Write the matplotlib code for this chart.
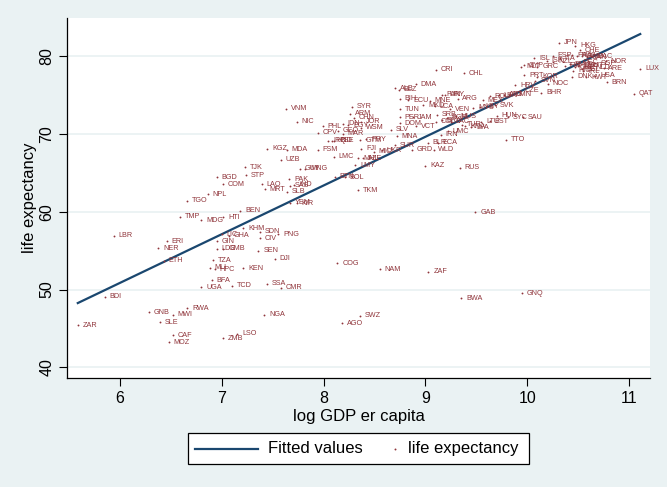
import matplotlib
matplotlib.use('Agg')
import matplotlib.pyplot as plt
from matplotlib.lines import Line2D
from matplotlib.patches import Rectangle
import numpy as np

BG = '#eaf2f3'
LINE = '#1a476f'
DOT = '#90353b'

codes = [
    'ZAR', 'BDI', 'LBR', 'ERI', 'NER', 'ETH', 'GNB', 'MWI', 'RWA', 'SLE',
    'CAF', 'MOZ', 'ZMB', 'LSO', 'UGA', 'BFA', 'TCD', 'TZA', 'MLI', 'HPC',
    'KEN', 'LDC', 'GMB', 'GIN', 'LIC', 'GHA', 'KHM', 'SDN', 'CIV', 'PNG',
    'SEN', 'DJI', 'SSA', 'CMR', 'NGA', 'COG', 'NAM', 'ZAF', 'SWZ', 'AGO',
    'BWA', 'GNQ', 'GAB', 'TMP', 'MDG', 'HTI', 'BEN', 'TGO', 'NPL', 'BGD',
    'COM', 'TJK', 'STP', 'LAO', 'MRT', 'PAK', 'SAS', 'IND', 'SLB', 'YEM',
    'KIR', 'GUY', 'MNG', 'UZB', 'KGZ', 'MDA', 'FSM', 'LMC', 'BTN', 'BOL',
    'TKM', 'LMY', 'MHL', 'AZE', 'VNM', 'NIC', 'PHL', 'CPV', 'GEO', 'MAR',
    'IDN', 'EGY', 'WSM', 'SYR', 'ARM', 'CHN', 'JOR', 'IRQ', 'HND', 'PSE',
    'GTM', 'PRY', 'FJI', 'MIC', 'UKR', 'SUR', 'GRD', 'WLD', 'BLR', 'ECA',
    'KAZ', 'RUS', 'TTO', 'IRN', 'UMC', 'MNA', 'SLV', 'LVA', 'KNA', 'LTU',
    'EST', 'ALB', 'BLZ', 'DMA', 'CRI', 'CHL', 'BIH', 'ECU', 'MNE', 'PAN',
    'URY', 'ARG', 'MEX', 'ROU', 'LBN', 'ATG', 'OMN', 'SVK', 'VEN', 'MYS',
    'LBY', 'MKD', 'LCA', 'TUN', 'PER', 'JAM', 'DOM', 'VCT', 'SRB', 'COL',
    'BRA', 'BGR', 'LAC', 'TUR', 'MUS', 'HUN', 'SYC', 'SAU', 'BHR', 'QAT',
    'LUX', 'BRN', 'NOR', 'SGP', 'ARE', 'IRL', 'DNK', 'KWT', 'USA', 'JPN',
    'HKG', 'CHE', 'NOC', 'SVN', 'CZE', 'HRV', 'PRT', 'KOR', 'MLT', 'CYP',
    'GRC', 'ISL', 'ISR', 'NZL', 'ESP', 'ITA', 'FRA', 'AUS', 'SWE', 'CAN',
    'MAC', 'FIN', 'EMU', 'GBR', 'DEU', 'BEL', 'HIC', 'AUT', 'NLD', 'OEC',
]

log_gdp = [
    5.585, 5.85, 5.94, 6.46, 6.376, 6.43, 6.285, 6.52, 6.66, 6.39,
    6.52, 6.48, 7.01, 7.15, 6.80, 6.90, 7.10, 6.91, 6.88, 6.93,
    7.21, 6.95, 7.015, 6.95, 6.998, 7.07, 7.21, 7.375, 7.375, 7.555,
    7.36, 7.52, 7.44, 7.58, 7.415, 8.135, 8.55, 9.03, 8.36, 8.18,
    9.35, 9.95, 9.49, 6.585, 6.80, 7.015, 7.18, 6.656, 6.86, 6.95,
    7.01, 7.228, 7.235, 7.39, 7.42, 7.66, 7.67, 7.71, 7.64, 7.67,
    7.735, 7.77, 7.82, 7.58, 7.446, 7.64, 7.94, 8.10, 8.11, 8.21,
    8.34, 8.31, 8.34, 8.39, 7.627, 7.735, 7.99, 7.94, 8.14, 8.19,
    8.19, 8.24, 8.37, 8.275, 8.26, 8.30, 8.37, 8.046, 8.079, 8.105,
    8.36, 8.42, 8.37, 8.49, 8.57, 8.70, 8.87, 9.08, 9.025, 9.12,
    9.0, 9.336, 9.79, 9.15, 9.22, 8.72, 8.66, 9.45, 9.39, 9.55,
    9.63, 8.70, 8.74, 8.904, 9.10, 9.374, 8.75, 8.83, 9.04, 9.16,
    9.19, 9.316, 9.565, 9.63, 9.72, 9.77, 9.83, 9.68, 9.24, 9.47,
    9.54, 8.98, 9.09, 8.75, 8.75, 8.88, 8.75, 8.91, 9.11, 9.10,
    9.16, 9.21, 9.25, 9.36, 9.30, 9.70, 9.81, 9.96, 10.14, 11.05,
    11.11, 10.78, 10.77, 10.67, 10.75, 10.55, 10.44, 10.58, 10.67, 10.31,
    10.47, 10.52, 10.20, 10.08, 9.93, 9.88, 9.97, 10.10, 9.94, 9.97,
    10.10, 10.07, 10.19, 10.255, 10.25, 10.32, 10.44, 10.49, 10.535, 10.585,
    10.63, 10.37, 10.42, 10.47, 10.50, 10.535, 10.45, 10.57, 10.62, 10.50,
]

life_exp = [
    45.38, 49.1, 56.93, 56.25, 55.31, 53.73, 47.05, 46.75, 47.6, 45.8,
    44.1, 43.2, 43.76, 44.3, 50.3, 51.2, 50.5, 53.8, 52.83, 52.6,
    52.75, 55.23, 55.23, 56.25, 57.15, 56.9, 57.88, 57.45, 56.6, 57.15,
    55.0, 53.94, 50.73, 50.26, 46.75, 53.39, 52.6, 52.3, 46.62, 45.68,
    48.9, 49.54, 59.94, 59.34, 58.95, 59.3, 60.14, 61.4, 62.28, 64.43,
    63.57, 65.71, 64.72, 63.57, 62.9, 64.17, 63.35, 63.5, 62.6, 61.2,
    61.1, 65.58, 65.58, 66.7, 68.1, 67.97, 67.97, 67.07, 64.5, 64.45,
    62.8, 66.0, 66.87, 66.87, 73.3, 71.6, 71.05, 70.15, 70.45, 70.05,
    71.36, 71.14, 70.8, 73.5, 72.64, 72.1, 71.6, 69.13, 69.13, 69.13,
    69.2, 69.35, 68.15, 67.72, 67.94, 68.57, 68.0, 68.0, 68.9, 68.9,
    65.92, 65.67, 69.3, 69.9, 70.35, 69.73, 70.6, 70.9, 71.05, 71.57,
    71.65, 75.9, 75.7, 76.4, 78.29, 77.86, 74.57, 74.35, 74.3, 75.08,
    75.1, 74.57, 74.35, 74.9, 75.0, 75.08, 75.1, 73.7, 73.2, 73.4,
    73.5, 73.7, 73.6, 73.2, 72.2, 72.2, 71.4, 71.0, 72.5, 71.57,
    71.8, 72.1, 71.57, 71.23, 72.3, 72.4, 72.2, 72.2, 75.3, 75.2,
    78.4, 76.7, 79.36, 79.1, 78.5, 78.1, 77.4, 77.3, 77.5, 81.76,
    81.4, 80.77, 76.5, 76.9, 75.6, 76.3, 77.6, 77.4, 78.7, 78.85,
    78.7, 79.74, 79.45, 79.32, 80.08, 79.74, 80.17, 80.08, 80.0, 79.87,
    80.0, 78.8, 79.0, 78.6, 78.8, 78.37, 78.16, 78.8, 78.6, 79.2,
]

x_ticks = [6, 7, 8, 9, 10, 11]
y_ticks = [40, 50, 60, 70, 80]

plt.rcParams.update({
    'font.family': ['Liberation Sans', 'DejaVu Sans'],
    'figure.facecolor': BG,
    'savefig.facecolor': BG,
})

W, H = 667, 487


def fx(px):
    return px / W


def fy(py):
    return 1 - py / H


x = np.array(log_gdp)
y = np.array(life_exp)
slope, intercept = np.polyfit(x, y, 1)
fit_x = np.array([x.min(), x.max()])
fit_y = intercept + slope * fit_x

fig = plt.figure(figsize=(W / 100, H / 100), dpi=100)
ax = fig.add_axes([fx(67), fy(378.3), fx(650 - 67), (378.3 - 18) / H])
ax.set_facecolor('white')

ax.plot(fit_x, fit_y, color=LINE, linewidth=1.6, zorder=3)
ax.scatter(x, y, s=1.8, color=DOT, linewidths=0, zorder=4)
for c, xi, yi in zip(codes, x, y):
    ax.annotate(c, (xi, yi), xytext=(3.5, 0), textcoords='offset points',
                ha='left', va='center', fontsize=5.2, color=DOT, zorder=4)

ax.set_xlim(5.479, 11.206)
ax.set_ylim(38.58, 84.95)
ax.set_xticks(x_ticks)
ax.set_yticks(y_ticks)
ax.set_yticklabels([str(v) for v in y_ticks], rotation=90, va='center')
ax.tick_params(axis='both', direction='out', length=6, width=0.8, colors='black',
               labelsize=11.5, pad=3)
ax.grid(axis='y', color=BG, linewidth=1.3)
ax.set_axisbelow(True)
for side in ('top', 'right'):
    ax.spines[side].set_visible(False)
for side in ('left', 'bottom'):
    ax.spines[side].set_linewidth(0.9)

ax.set_xlabel('log GDP er capita', fontsize=12, labelpad=2)
ax.set_ylabel('life expectancy', fontsize=12, labelpad=2)

# legend box below the plot, laid out by hand
fig.add_artist(Rectangle((fx(188), fy(464)), fx(529 - 188), (464 - 433) / H,
                         transform=fig.transFigure, facecolor='white',
                         edgecolor='black', linewidth=0.9))
mid = fy(448.5)
fig.add_artist(Line2D([fx(195), fx(258)], [mid, mid], transform=fig.transFigure,
                      color=LINE, linewidth=1.6))
fig.text(fx(268), mid, 'Fitted values', fontsize=12, ha='left', va='center')
fig.add_artist(Line2D([fx(395)], [mid], transform=fig.transFigure, color=DOT,
                      linestyle='none', marker='o', markersize=1.4, markeredgewidth=0))
fig.text(fx(408), mid, 'life expectancy', fontsize=12, ha='left', va='center')

fig.savefig('out.png', dpi=100)
